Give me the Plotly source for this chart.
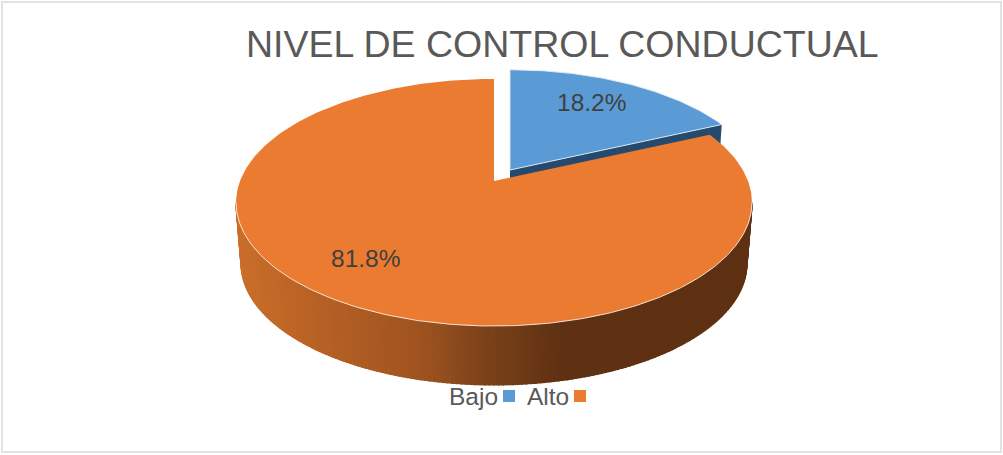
import numpy as np
import plotly.graph_objects as go

TITLE = "NIVEL DE CONTROL CONDUCTUAL"
categories = ["Bajo", "Alto"]
percentages = [18.2, 81.8]
colors = {"Bajo": "#5B9BD5", "Alto": "#EB7B31"}
side_dark = {"Bajo": "#264A6E"}
grad_x = [236, 330, 420, 490, 560, 760]
grad_r = [203, 181, 160, 122, 95, 95]
grad_g = [112, 96, 84, 65, 49, 49]
grad_b = [43, 37, 32, 26, 19, 19]

W, H = 1003, 455
CX, CY = 494.0, 181.0      # apex of the main slice on the top face
A, B, K = 254.0, 119.8, 0.174   # perspective projection of the disc
BOT_SCALE, BOT_CY = 0.98, 242.6
OFFSET = (16.0, -11.0)     # exploded slice shift
BLUE_SCALE = 0.982


def top(theta, off=(0.0, 0.0), s=1.0):
    u, v = np.sin(theta), np.cos(theta)
    w = 1 + K * v
    return CX + off[0] + s * A * u / w, CY + off[1] - s * B * v / w


def bottom(theta, off=(0.0, 0.0), s=1.0):
    u, v = np.sin(theta), np.cos(theta)
    w = 1 + K * v
    return CX + off[0] + s * BOT_SCALE * A * u / w, BOT_CY + off[1] - s * BOT_SCALE * B * v / w


def poly(x, y, fill, line=None, width=0.0):
    return go.Scatter(
        x=list(x), y=list(y), mode="lines", fill="toself", fillcolor=fill,
        line=dict(color=line or fill, width=width), hoverinfo="skip", showlegend=False,
    )


total = sum(percentages)
split = 2 * np.pi * percentages[0] / total
fig = go.Figure()

# Exploded slice: inner wall and top face
ax0, ay0 = CX + OFFSET[0], CY + OFFSET[1]
bx0, by0 = CX + OFFSET[0], BOT_CY + OFFSET[1]
x1, y1 = top(split, OFFSET, BLUE_SCALE)
bx1, by1 = bottom(split, OFFSET, BLUE_SCALE)
fig.add_trace(poly([ax0, x1, bx1, bx0, ax0], [ay0, y1, by1, by0, ay0], side_dark["Bajo"]))
arc = np.linspace(0, split, 80)
ax, ay = top(arc, OFFSET, BLUE_SCALE)
fig.add_trace(poly(np.r_[ax0, ax, ax0], np.r_[ay0, ay, ay0], colors["Bajo"], "rgba(225,236,247,0.9)", 1))

# Main slice: outer wall as gradient strips, only the front half faces the viewer
edges = np.radians(np.linspace(100, 260, 181))
pairs = sorted(zip(edges[:-1], edges[1:]), key=lambda p: -np.cos((p[0] + p[1]) / 2))
for t0, t1 in pairs:
    xa, ya = top(t0)
    xb, yb = top(t1)
    xc, yc = bottom(t1)
    xd, yd = bottom(t0)
    mx = (xa + xb + xc + xd) / 4
    col = "rgb(%d,%d,%d)" % tuple(int(np.interp(mx, grad_x, c)) for c in (grad_r, grad_g, grad_b))
    fig.add_trace(poly([xa, xb, xc, xd, xa], [ya, yb, yc, yd, ya], col, col, 1.5))

# Main slice: top face, with a light rim along the front edge only
arc = np.linspace(split, 2 * np.pi, 300)
ax, ay = top(arc)
fig.add_trace(poly(np.r_[CX, ax, CX], np.r_[CY, ay, CY], colors["Alto"]))
front = np.radians(np.linspace(100, 260, 200))
fx, fy = top(front)
fig.add_trace(go.Scatter(x=fx, y=fy, mode="lines", line=dict(color="rgba(250,232,218,0.95)", width=1),
                         hoverinfo="skip", showlegend=False))

texts = [
    dict(text=TITLE, x=562.5, y=44, font=dict(size=37.5, color="#595959")),
    dict(text=f"{percentages[0]:.1f}%", x=591.5, y=102, font=dict(size=24.5, color="#404040")),
    dict(text=f"{percentages[1]:.1f}%", x=365.5, y=258, font=dict(size=24.5, color="#404040")),
    dict(text=categories[0], x=473, y=396, font=dict(size=24.5, color="#595959")),
    dict(text=categories[1], x=548, y=396, font=dict(size=24.5, color="#595959")),
]
annotations = [
    dict(xref="x", yref="y", showarrow=False, xanchor="center", yanchor="middle", **t) for t in texts
]

shapes = [
    dict(type="rect", xref="x", yref="y", x0=2, y0=2, x1=1001, y1=452,
         line=dict(color="#E2E2E2", width=2), fillcolor="rgba(0,0,0,0)", layer="below"),
    dict(type="rect", xref="x", yref="y", x0=503, y0=390, x1=515, y1=402,
         line=dict(width=0), fillcolor=colors["Bajo"]),
    dict(type="rect", xref="x", yref="y", x0=574, y0=390, x1=586, y1=402,
         line=dict(width=0), fillcolor=colors["Alto"]),
]

fig.update_layout(
    width=W, height=H, margin=dict(l=0, r=0, t=0, b=0),
    paper_bgcolor="white", plot_bgcolor="white", showlegend=False,
    font=dict(family="Liberation Sans, Arial, sans-serif"),
    xaxis=dict(range=[0, W], visible=False, fixedrange=True),
    yaxis=dict(range=[H, 0], visible=False, fixedrange=True),
    annotations=annotations, shapes=shapes,
)
fig.write_html(
    "out.html",
    config={"displayModeBar": False},
    post_script="document.body.style.margin='0';document.body.style.overflow='hidden';",
)
